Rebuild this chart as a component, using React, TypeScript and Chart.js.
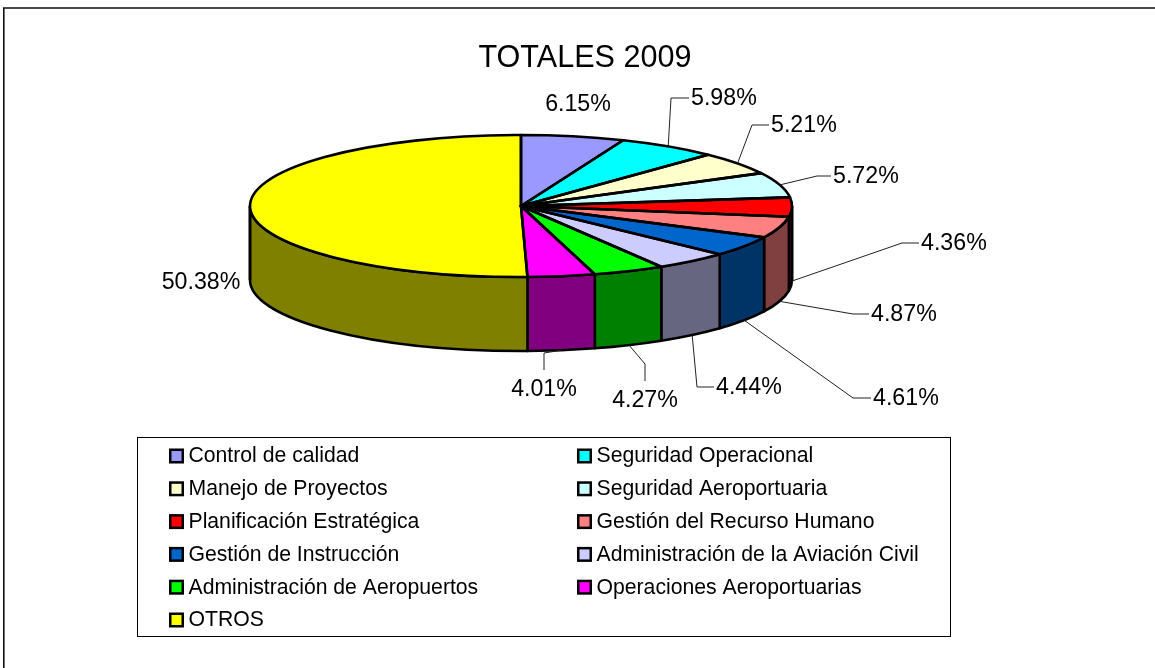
import React, { useEffect, useRef } from "react";
import { Chart, registerables } from "chart.js";

Chart.register(...registerables);

const chartTitle = "TOTALES 2009";
const categories = [
  "Control de calidad",
  "Seguridad Operacional",
  "Manejo de Proyectos",
  "Seguridad Aeroportuaria",
  "Planificación Estratégica",
  "Gestión del Recurso Humano",
  "Gestión de Instrucción",
  "Administración de la Aviación Civil",
  "Administración de Aeropuertos",
  "Operaciones Aeroportuarias",
  "OTROS",
];
const shares = [6.15, 5.98, 5.21, 5.72, 4.36, 4.87, 4.61, 4.44, 4.27, 4.01, 50.38];
const sliceColors = ["#9999FF", "#00FFFF", "#FFFFCC", "#CCFFFF", "#FF0000", "#FF8080", "#0066CC", "#CCCCFF", "#00FF00", "#FF00FF", "#FFFF00"];
const wallColors = ["#4C4C80", "#008080", "#808066", "#668080", "#800000", "#804040", "#003366", "#666680", "#008000", "#800080", "#808000"];

// Label layout: [elbowX, elbowY, endX, endY] of the leader (null = no leader), then text anchor.
type Place = { leader: number[] | null; x: number; y: number; align: CanvasTextAlign };
const labelPlaces: Place[] = [
  { leader: null, x: 578, y: 105, align: "center" },
  { leader: [671, 98, 689, 98], x: 691, y: 99, align: "left" },
  { leader: [752, 125, 769, 125], x: 771, y: 126, align: "left" },
  { leader: [817, 176, 831, 176], x: 833, y: 177, align: "left" },
  { leader: [902, 243, 919, 243], x: 921, y: 244, align: "left" },
  { leader: [853, 314, 869, 314], x: 871, y: 315, align: "left" },
  { leader: [853, 398, 871, 398], x: 873, y: 399, align: "left" },
  { leader: [697, 387, 714, 387], x: 716, y: 388, align: "left" },
  { leader: [645, 364, 645, 381], x: 645, y: 401, align: "center" },
  { leader: [544, 353, 544, 370], x: 544, y: 390, align: "center" },
  { leader: null, x: 201, y: 283, align: "center" },
];

const FONT = '"Liberation Sans", Arial, sans-serif';
const PIE = { cx: 521, cy: 206, rx: 271, ry: 71, depth: 74 };
const FRAME = { x: 3.8, y: 8 };
const LEGEND = { x: 137.5, y: 437.5, w: 813, h: 199, col: [169, 577], rowY: 456, rowH: 32.8 };

const pie3d = {
  id: "pie3d",
  beforeDraw(chart: any) {
    const c = chart.ctx;
    c.save();
    c.fillStyle = "#fff";
    c.fillRect(0, 0, chart.width, chart.height);
    c.strokeStyle = "#111";
    c.lineWidth = 1.6;
    c.beginPath();
    c.moveTo(FRAME.x, chart.height);
    c.lineTo(FRAME.x, FRAME.y);
    c.lineTo(chart.width, FRAME.y);
    c.stroke();
    c.restore();
  },
  beforeDatasetsDraw(chart: any) {
    const c = chart.ctx;
    const arcs = chart.getDatasetMeta(0).data;
    const { cx, cy, rx, ry, depth } = PIE;
    c.save();
    c.lineWidth = 2.6;
    c.strokeStyle = "#000";
    c.lineJoin = "round";
    arcs.forEach((a: any, i: number) => {
      const s = Math.max(a.startAngle, 0);
      const e = Math.min(a.endAngle, Math.PI);
      if (e <= s) return;
      c.beginPath();
      c.ellipse(cx, cy, rx, ry, 0, s, e);
      c.lineTo(cx + rx * Math.cos(e), cy + ry * Math.sin(e) + depth);
      c.ellipse(cx, cy + depth, rx, ry, 0, e, s, true);
      c.closePath();
      c.fillStyle = wallColors[i];
      c.fill();
      c.stroke();
    });
    // Side edges of the visible wall.
    c.beginPath();
    c.moveTo(cx + rx, cy);
    c.lineTo(cx + rx, cy + depth);
    c.moveTo(cx - rx, cy);
    c.lineTo(cx - rx, cy + depth);
    c.stroke();
    c.restore();
    const a0 = arcs[0];
    // Squash the library's own circular arcs into the pie's ellipse.
    c.save();
    c.translate(cx, cy);
    c.scale(rx / a0.outerRadius, ry / a0.outerRadius);
    c.translate(-a0.x, -a0.y);
  },
  afterDatasetsDraw(chart: any) {
    const c = chart.ctx;
    c.restore();
    const arcs = chart.getDatasetMeta(0).data;
    const { cx, cy, rx, ry, depth } = PIE;
    c.save();
    c.lineWidth = 2.6;
    c.strokeStyle = "#000";
    c.lineJoin = "round";
    arcs.forEach((a: any) => {
      c.beginPath();
      c.moveTo(cx, cy);
      c.ellipse(cx, cy, rx, ry, 0, a.startAngle, a.endAngle);
      c.closePath();
      c.stroke();
    });
    // Leaders and percentage labels.
    c.lineWidth = 1;
    c.strokeStyle = "#222";
    c.font = `23.2px ${FONT}`;
    c.textBaseline = "middle";
    c.fillStyle = "#000";
    arcs.forEach((a: any, i: number) => {
      const p = labelPlaces[i];
      const mid = (a.startAngle + a.endAngle) / 2;
      if (p.leader) {
        const front = mid > 0 && mid < Math.PI;
        const sx = cx + rx * Math.cos(mid);
        const sy = cy + ry * Math.sin(mid) + (front ? depth : 0);
        c.beginPath();
        c.moveTo(sx, sy);
        c.lineTo(p.leader[0], p.leader[1]);
        c.lineTo(p.leader[2], p.leader[3]);
        c.stroke();
      }
      c.textAlign = p.align;
      c.fillText(`${shares[i].toFixed(2)}%`, p.x, p.y);
    });
    c.restore();
  },
  afterDraw(chart: any) {
    const c = chart.ctx;
    c.save();
    c.fillStyle = "#fff";
    c.strokeStyle = "#000";
    c.lineWidth = 1;
    c.fillRect(LEGEND.x, LEGEND.y, LEGEND.w, LEGEND.h);
    c.strokeRect(LEGEND.x, LEGEND.y, LEGEND.w, LEGEND.h);
    c.font = `21.2px ${FONT}`;
    c.textBaseline = "middle";
    c.textAlign = "left";
    categories.forEach((name, i) => {
      const x = LEGEND.col[i % 2];
      const y = LEGEND.rowY + Math.floor(i / 2) * LEGEND.rowH;
      c.fillStyle = sliceColors[i];
      c.lineWidth = 2.5;
      c.fillRect(x + 1.25, y - 6.25, 12.5, 12.5);
      c.strokeRect(x + 1.25, y - 6.25, 12.5, 12.5);
      c.fillStyle = "#000";
      c.fillText(name, x + 19.5, y + 0.5);
    });
    c.restore();
  },
};

export default function App() {
  const ref = useRef<HTMLCanvasElement>(null);
  useEffect(() => {
    const chart = new Chart(ref.current as HTMLCanvasElement, {
      type: "pie",
      data: {
        labels: categories,
        datasets: [{ data: shares, backgroundColor: sliceColors, borderWidth: 0 }],
      },
      options: {
        responsive: false,
        animation: false,
        layout: { padding: { left: 15, right: 0, top: 0, bottom: 20 } },
        plugins: {
          title: {
            display: true,
            text: chartTitle,
            color: "#000",
            font: { family: FONT, size: 30.6, weight: "normal" },
            padding: { top: 40, bottom: 10 },
          },
          legend: { display: false },
          tooltip: { enabled: false },
        },
      },
      plugins: [pie3d],
    } as any);
    return () => chart.destroy();
  }, []);
  return (
    <canvas
      ref={ref}
      width={1155}
      height={668}
      style={{ position: "absolute", left: 0, top: 0, display: "block" }}
    />
  );
}
